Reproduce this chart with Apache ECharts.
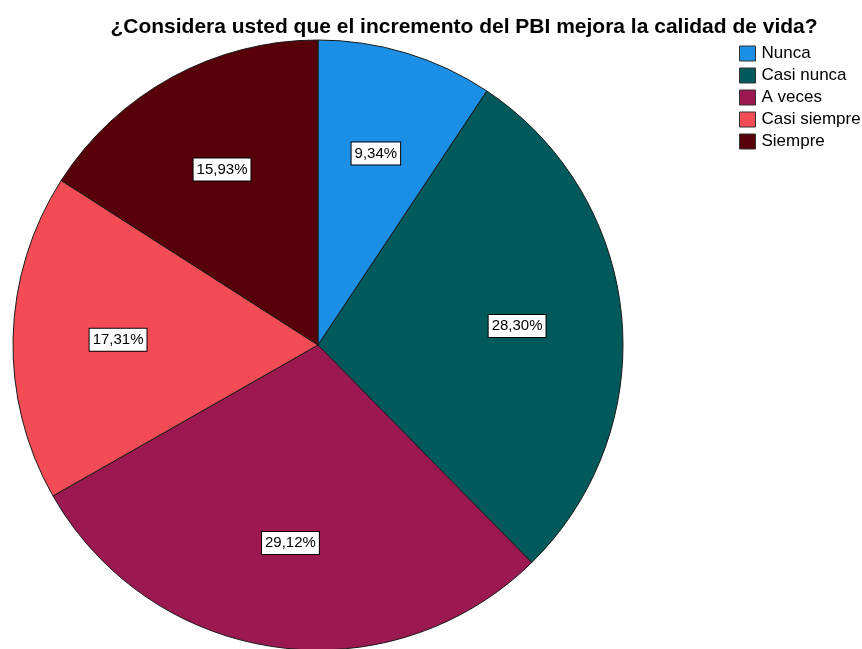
<!DOCTYPE html>
<html>
<head>
<meta charset="utf-8">
<style>
  html, body { margin: 0; padding: 0; background: #ffffff; }
  #chart { width: 862px; height: 649px; }
</style>
<script src="https://cdn.jsdelivr.net/npm/echarts@6/dist/echarts.min.js"></script>
</head>
<body>
<div id="chart"></div>
<script>
// Survey answers and their share of respondents (%)
const categories = ['Nunca', 'Casi nunca', 'A veces', 'Casi siempre', 'Siempre'];
const percents = [9.34, 28.30, 29.12, 17.31, 15.93];
const colors = ['#1b8fe6', '#00595a', '#9c1850', '#f44c55', '#57000a'];

const chart = echarts.init(document.getElementById('chart'), null, { renderer: 'canvas' });

const sliceData = categories.map((name, i) => ({
  name: name,
  value: percents[i],
  itemStyle: { color: colors[i] }
}));

const fmt = p => p.value.toFixed(2).replace('.', ',') + '%';
const FONT = 'Liberation Sans, Arial, sans-serif';

chart.setOption({
  animation: false,
  backgroundColor: '#ffffff',
  title: {
    text: '¿Considera usted que el incremento del PBI mejora la calidad de vida?',
    left: 459,
    top: 12,
    textAlign: 'center',
    textStyle: {
      fontFamily: FONT,
      fontWeight: 'bold',
      fontSize: 21,
      color: '#000000'
    }
  },
  legend: {
    orient: 'vertical',
    left: 734,
    top: 40,
    itemWidth: 16,
    itemHeight: 15,
    itemGap: 5,
    icon: 'rect',
    selectedMode: false,
    textStyle: {
      fontFamily: FONT,
      fontSize: 17,
      color: '#000000',
      padding: [0, 0, 0, 1]
    },
    itemStyle: { borderColor: '#333333', borderWidth: 1 },
    data: categories
  },
  series: [
    {
      type: 'pie',
      center: [318, 345],
      radius: [0, 305],
      startAngle: 90,
      clockwise: true,
      label: { show: false },
      labelLine: { show: false },
      itemStyle: { borderColor: '#1a1a1a', borderWidth: 1 },
      emphasis: { disabled: true },
      data: sliceData
    },
    {
      // invisible ring used only to place the percentage tags
      type: 'pie',
      center: [318, 345],
      radius: [182, 212],
      startAngle: 90,
      clockwise: true,
      silent: true,
      legendHoverLink: false,
      itemStyle: { color: 'rgba(0,0,0,0)' },
      label: {
        show: true,
        position: 'inner',
        formatter: fmt,
        fontFamily: FONT,
        fontSize: 15,
        color: '#000000',
        backgroundColor: '#ffffff',
        borderColor: '#000000',
        borderWidth: 1,
        padding: [4, 3, 3, 3]
      },
      labelLine: { show: false },
      emphasis: { disabled: true },
      data: categories.map((name, i) => ({ name: name + ' ', value: percents[i] }))
    }
  ]
});
</script>
</body>
</html>
